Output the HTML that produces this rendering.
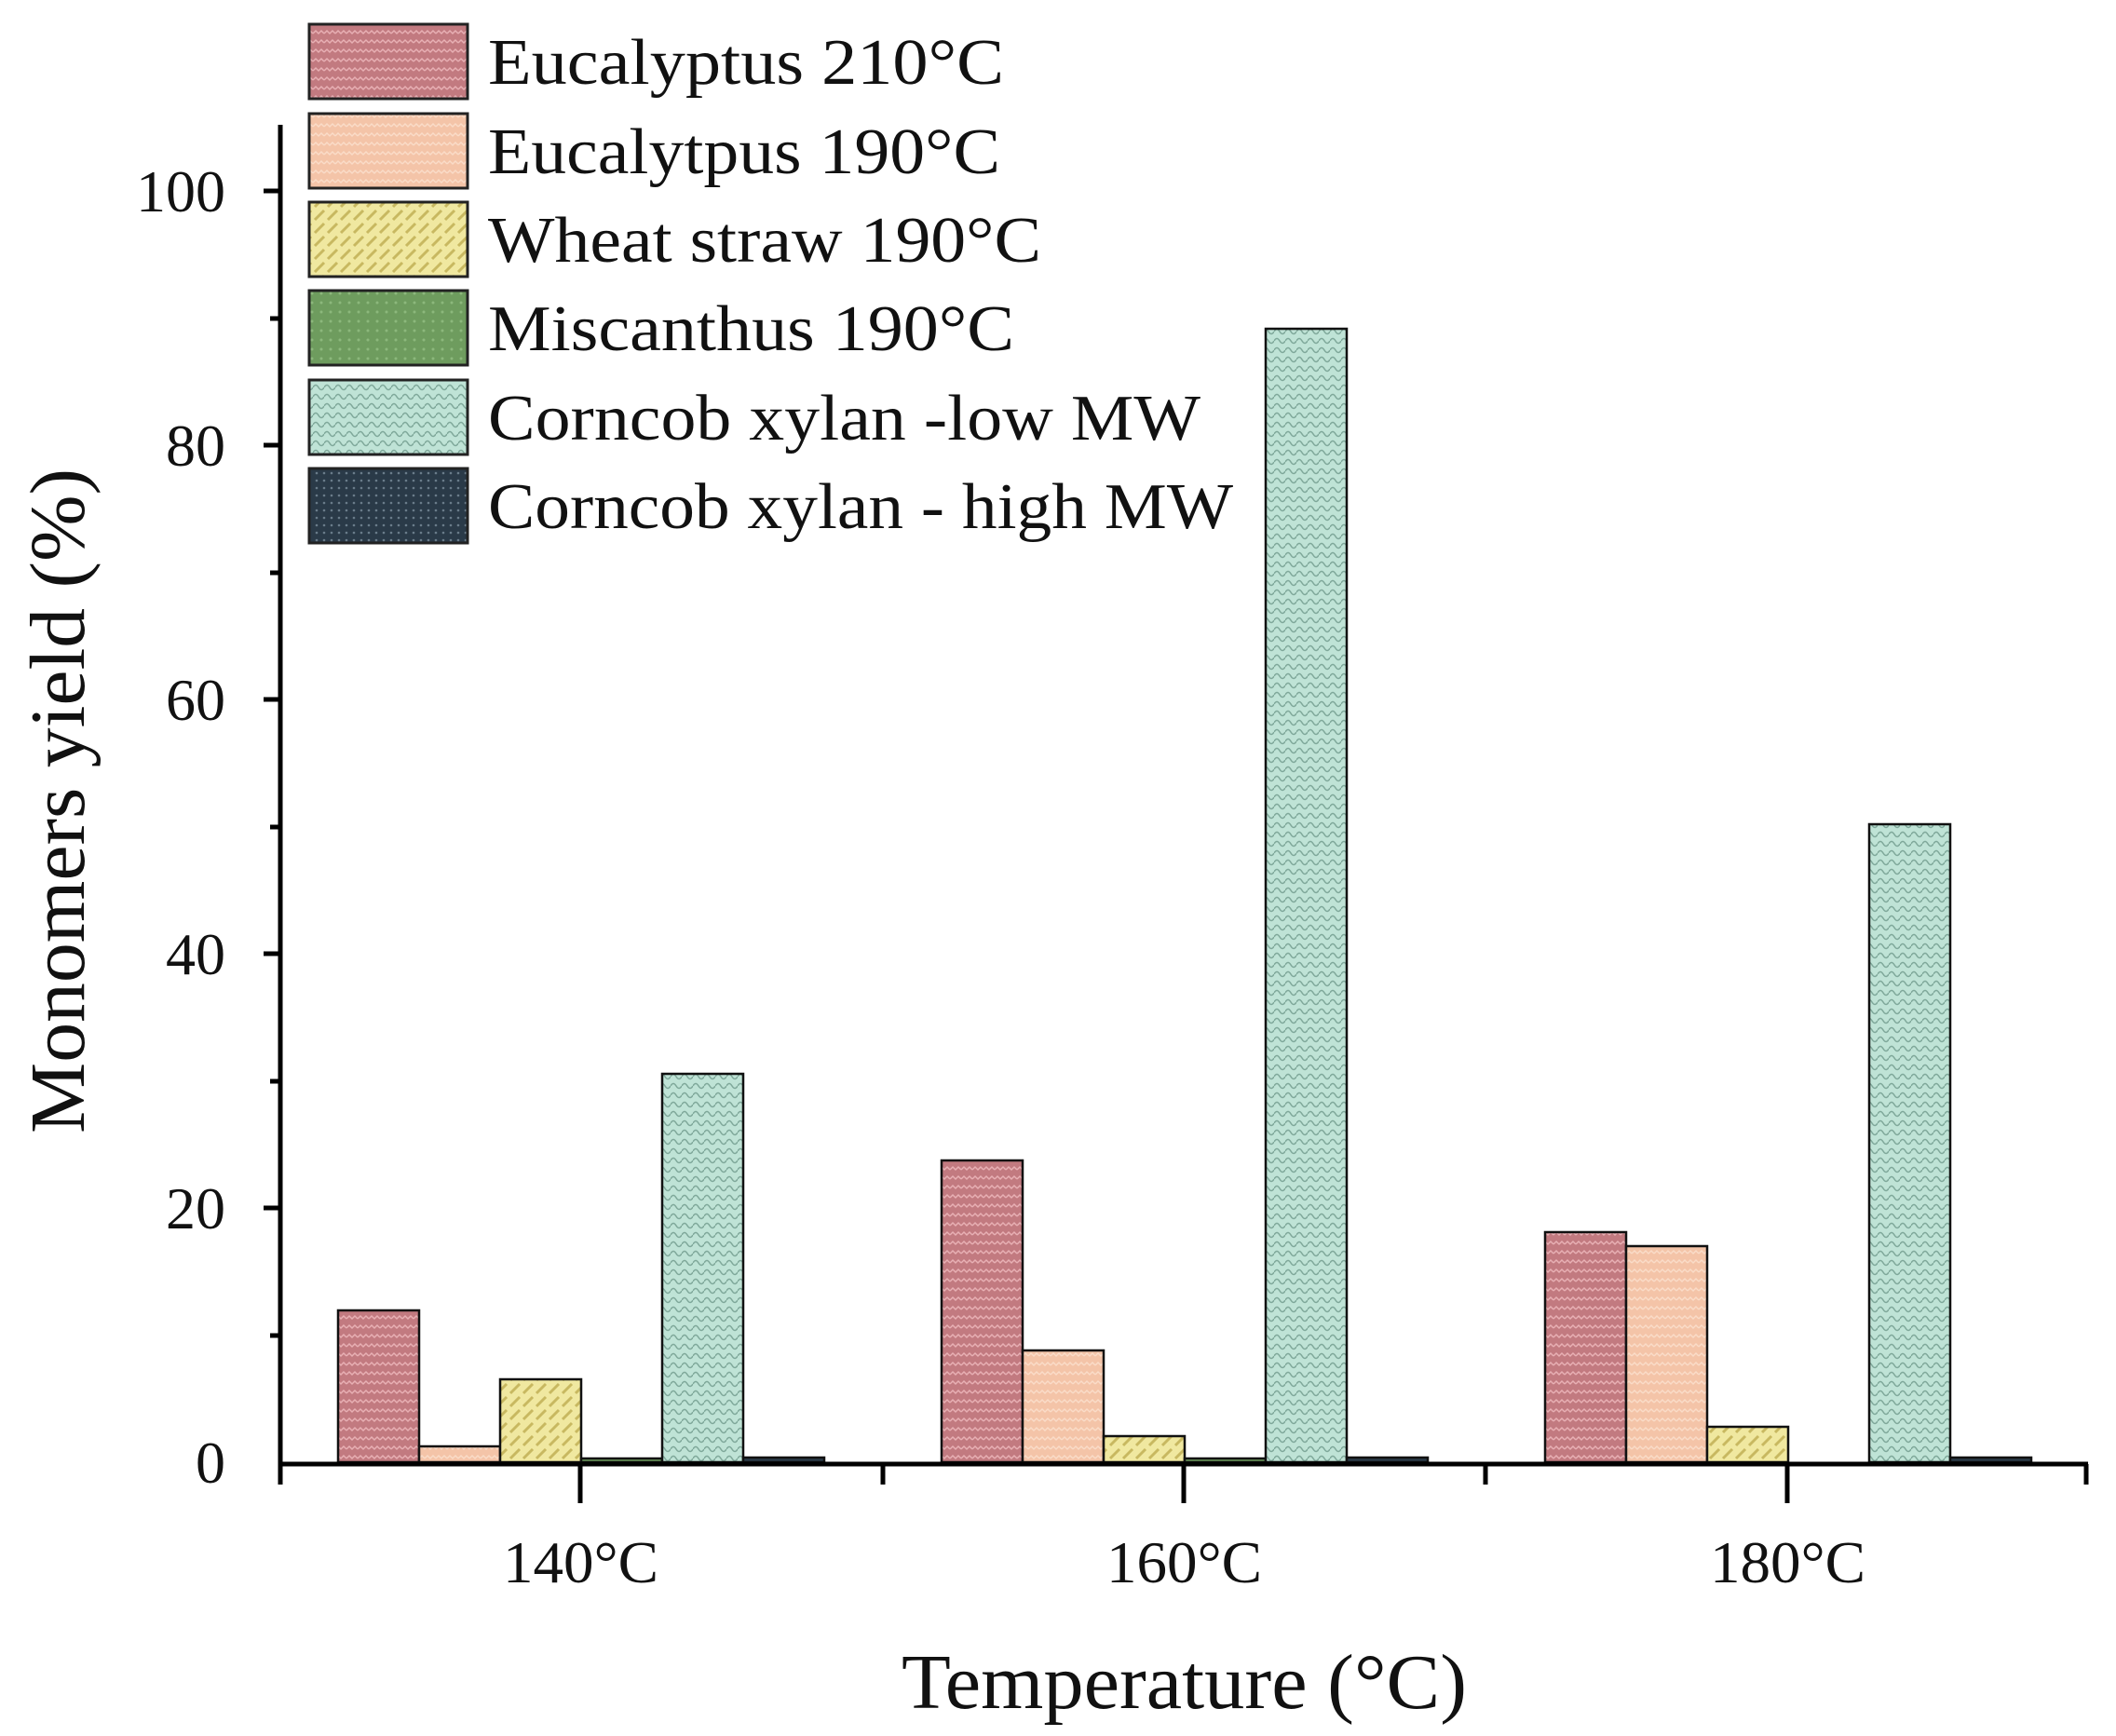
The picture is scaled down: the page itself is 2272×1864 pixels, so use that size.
<!DOCTYPE html>
<html><head><meta charset="utf-8"><style>
html,body{margin:0;padding:0;background:#fff}
svg{display:block}
text{font-family:"Liberation Serif",serif;fill:#111}
</style></head><body>
<svg width="2272" height="1864" viewBox="0 0 2272 1864" xmlns="http://www.w3.org/2000/svg">
<defs>
<pattern id="p1" width="12" height="10" patternUnits="userSpaceOnUse"><rect width="12" height="10" fill="#c27a80"/><path d="M0 6 L3 3 L6 6 L9 3 L12 6" stroke="#e8b0b4" stroke-width="1.5" fill="none"/></pattern>
<pattern id="p2" width="12" height="10" patternUnits="userSpaceOnUse"><rect width="12" height="10" fill="#f4c4a8"/><path d="M0 6 L3 3 L6 6 L9 3 L12 6" stroke="#fadcc8" stroke-width="1.5" fill="none"/></pattern>
<pattern id="p3" width="14" height="14" patternUnits="userSpaceOnUse"><rect width="14" height="14" fill="#f0e8a0"/><path d="M2 12 L12 2" stroke="#c8b860" stroke-width="3"/></pattern>
<pattern id="p4" width="10" height="10" patternUnits="userSpaceOnUse"><rect width="10" height="10" fill="#6e9c5e"/><circle cx="5" cy="5" r="1.5" fill="#8cb87c"/></pattern>
<pattern id="p5" width="12" height="10" patternUnits="userSpaceOnUse"><rect width="12" height="10" fill="#bfe3d6"/><path d="M0 6 Q3 1 6 6 T12 6" stroke="#7fa89a" stroke-width="1.5" fill="none"/></pattern>
<pattern id="p6" width="8" height="8" patternUnits="userSpaceOnUse"><rect width="8" height="8" fill="#2a3a48"/><circle cx="4" cy="4" r="1.3" fill="#6a7c8a"/></pattern>
</defs>
<g stroke="#111" stroke-width="2.5">
<rect x="363" y="1407" width="87" height="163" fill="url(#p1)"/>
<rect x="450" y="1553" width="87" height="17" fill="url(#p2)"/>
<rect x="537" y="1481" width="87" height="89" fill="url(#p3)"/>
<rect x="624" y="1566" width="87" height="4" fill="url(#p4)"/>
<rect x="711" y="1153" width="87" height="417" fill="url(#p5)"/>
<rect x="798" y="1565" width="87" height="5" fill="url(#p6)"/>
<rect x="1011" y="1246" width="87" height="324" fill="url(#p1)"/>
<rect x="1098" y="1450" width="87" height="120" fill="url(#p2)"/>
<rect x="1185" y="1542" width="87" height="28" fill="url(#p3)"/>
<rect x="1272" y="1566" width="87" height="4" fill="url(#p4)"/>
<rect x="1359" y="353" width="87" height="1217" fill="url(#p5)"/>
<rect x="1446" y="1565" width="87" height="5" fill="url(#p6)"/>
<rect x="1659" y="1323" width="87" height="247" fill="url(#p1)"/>
<rect x="1746" y="1338" width="87" height="232" fill="url(#p2)"/>
<rect x="1833" y="1532" width="87" height="38" fill="url(#p3)"/>
<rect x="2007" y="885" width="87" height="685" fill="url(#p5)"/>
<rect x="2094" y="1565" width="87" height="5" fill="url(#p6)"/>
</g>
<g stroke="#000" stroke-width="5" fill="none">
<line x1="301" y1="134" x2="301" y2="1572"/>
<line x1="299" y1="1572" x2="2242" y2="1572"/>
<line x1="283" y1="205" x2="301" y2="205"/>
<line x1="283" y1="478" x2="301" y2="478"/>
<line x1="283" y1="751" x2="301" y2="751"/>
<line x1="283" y1="1024" x2="301" y2="1024"/>
<line x1="283" y1="1297" x2="301" y2="1297"/>
<line x1="290" y1="342" x2="301" y2="342"/>
<line x1="290" y1="615" x2="301" y2="615"/>
<line x1="290" y1="888" x2="301" y2="888"/>
<line x1="290" y1="1161" x2="301" y2="1161"/>
<line x1="290" y1="1434" x2="301" y2="1434"/>
<line x1="623" y1="1572" x2="623" y2="1614"/>
<line x1="1271" y1="1572" x2="1271" y2="1614"/>
<line x1="1919" y1="1572" x2="1919" y2="1614"/>
<line x1="301" y1="1572" x2="301" y2="1594"/>
<line x1="948" y1="1572" x2="948" y2="1594"/>
<line x1="1595" y1="1572" x2="1595" y2="1594"/>
<line x1="2240" y1="1572" x2="2240" y2="1594"/>
</g>
<g font-size="64" text-anchor="end">
<text x="242" y="227">100</text>
<text x="242" y="500">80</text>
<text x="242" y="773">60</text>
<text x="242" y="1046">40</text>
<text x="242" y="1319">20</text>
<text x="242" y="1592">0</text>
</g>
<g font-size="64">
<text x="540" y="1699" textLength="167" lengthAdjust="spacingAndGlyphs">140°C</text>
<text x="1188" y="1699" textLength="167" lengthAdjust="spacingAndGlyphs">160°C</text>
<text x="1836" y="1699" textLength="167" lengthAdjust="spacingAndGlyphs">180°C</text>
</g>
<text x="968" y="1834" font-size="84" textLength="607" lengthAdjust="spacingAndGlyphs">Temperature (°C)</text>
<text transform="translate(90,1217) rotate(-90)" font-size="84" textLength="714" lengthAdjust="spacingAndGlyphs">Monomers yield (%)</text>
<g stroke="#222" stroke-width="3">
<rect x="332" y="26" width="170" height="80" fill="url(#p1)"/>
<rect x="332" y="122" width="170" height="80" fill="url(#p2)"/>
<rect x="332" y="217" width="170" height="80" fill="url(#p3)"/>
<rect x="332" y="312" width="170" height="80" fill="url(#p4)"/>
<rect x="332" y="408" width="170" height="80" fill="url(#p5)"/>
<rect x="332" y="503" width="170" height="80" fill="url(#p6)"/>
</g>
<g font-size="70">
<text x="524" y="90" textLength="554" lengthAdjust="spacingAndGlyphs">Eucalyptus 210°C</text>
<text x="524" y="186" textLength="550" lengthAdjust="spacingAndGlyphs">Eucalytpus 190°C</text>
<text x="524" y="281" textLength="594" lengthAdjust="spacingAndGlyphs">Wheat straw 190°C</text>
<text x="524" y="376" textLength="565" lengthAdjust="spacingAndGlyphs">Miscanthus 190°C</text>
<text x="524" y="472" textLength="765" lengthAdjust="spacingAndGlyphs">Corncob xylan -low MW</text>
<text x="524" y="567" textLength="800" lengthAdjust="spacingAndGlyphs">Corncob xylan - high MW</text>
</g>
</svg>
</body></html>
